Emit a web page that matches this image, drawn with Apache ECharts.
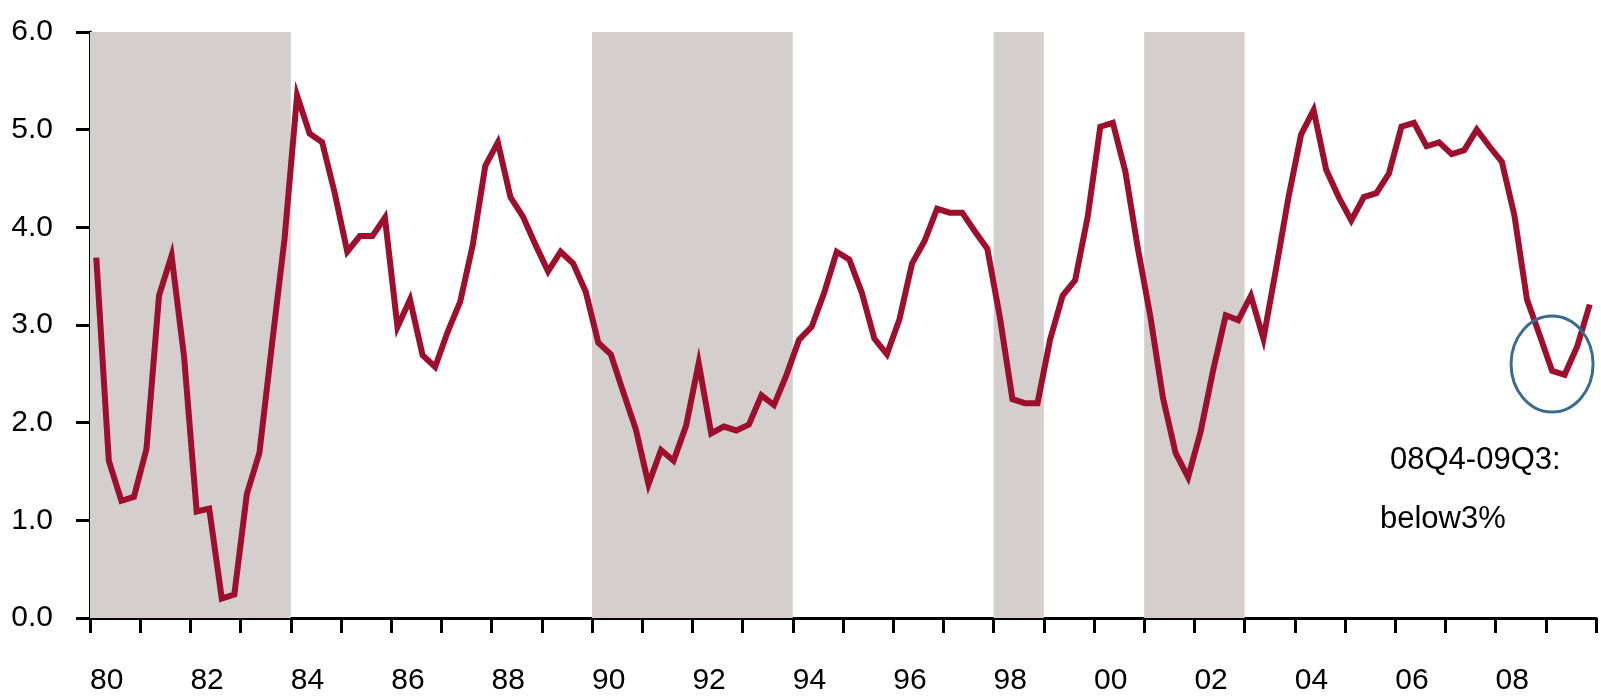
<!DOCTYPE html>
<html>
<head>
<meta charset="utf-8">
<script src="https://cdn.jsdelivr.net/npm/echarts@6/dist/echarts.min.js"></script>
<style>
  html, body { margin: 0; padding: 0; background: #fff; }
  #chart { width: 1601px; height: 699px; }
</style>
</head>
<body>
<div id="chart"></div>
<script>
// quarterly values, 1980Q1 .. 2009Q4
const values = [
  3.69, 1.61, 1.20, 1.24, 1.73, 3.30, 3.71, 2.67, 1.09, 1.12, 0.20, 0.24,
  1.27, 1.69, 2.80, 3.88, 5.35, 4.96, 4.87, 4.35, 3.75, 3.91, 3.91, 4.10,
  2.98, 3.26, 2.69, 2.57, 2.93, 3.24, 3.82, 4.63, 4.87, 4.31, 4.11, 3.82,
  3.55, 3.75, 3.63, 3.34, 2.82, 2.70, 2.31, 1.93, 1.37, 1.72, 1.61, 1.97,
  2.61, 1.89, 1.96, 1.92, 1.98, 2.28, 2.18, 2.49, 2.85, 2.98, 3.33, 3.75,
  3.67, 3.33, 2.86, 2.70, 3.06, 3.63, 3.86, 4.19, 4.15, 4.15, 3.96, 3.78,
  3.08, 2.24, 2.20, 2.20, 2.85, 3.30, 3.46, 4.11, 5.03, 5.07, 4.57, 3.78,
  3.08, 2.25, 1.69, 1.44, 1.91, 2.54, 3.10, 3.05, 3.30, 2.86, 3.57, 4.31,
  4.95, 5.20, 4.59, 4.31, 4.07, 4.31, 4.35, 4.55, 5.03, 5.07, 4.83, 4.87,
  4.75, 4.79, 5.00, 4.83, 4.67, 4.12, 3.26, 2.90, 2.53, 2.49, 2.78, 3.21
];

// shaded periods, in years
const shaded = [[1980, 1984], [1990, 1994], [1998, 1999], [2001, 2003]];

const yearLabels = ['80', '82', '84', '86', '88', '90', '92', '94', '96', '98', '00', '02', '04', '06', '08'];
const yTicks = ['0.0', '1.0', '2.0', '3.0', '4.0', '5.0', '6.0'];

const noteLines = ['08Q4-09Q3:', 'below3%'];
const notePoint = ['2009Q1', 2.6];

const quarters = [];
for (let y = 1980; y < 2010; y++) {
  for (let q = 1; q <= 4; q++) quarters.push(y + 'Q' + q);
}

const font = 'Liberation Sans, Arial, sans-serif';
const chart = echarts.init(document.getElementById('chart'));

chart.setOption({
  animation: false,
  grid: { left: 90, right: 5, top: 32, bottom: 81 },
  xAxis: [
    {
      type: 'category',
      data: quarters,
      boundaryGap: true,
      show: false
    },
    {
      type: 'value',
      min: 1980,
      max: 2010,
      interval: 1,
      position: 'bottom',
      axisLine: { lineStyle: { color: '#000', width: 3 } },
      axisTick: { length: 15, lineStyle: { color: '#000', width: 3 } },
      splitLine: { show: false },
      axisLabel: {
        color: '#000',
        fontFamily: font,
        fontSize: 30,
        align: 'left',
        margin: 48,
        formatter: v => {
          const i = (v - 1980) / 2;
          return Number.isInteger(i) && yearLabels[i] ? yearLabels[i] : '';
        }
      }
    }
  ],
  yAxis: {
    type: 'value',
    min: 0,
    max: 6,
    interval: 1,
    axisLine: { show: true, lineStyle: { color: '#000', width: 3 } },
    axisTick: { show: true, length: 14, lineStyle: { color: '#000', width: 3 } },
    splitLine: { show: false },
    axisLabel: {
      color: '#000',
      fontFamily: font,
      fontSize: 30,
      margin: 37,
      formatter: v => yTicks[Math.round(v)]
    }
  },
  series: [
    {
      type: 'line',
      xAxisIndex: 1,
      data: [],
      silent: true,
      z: 1,
      markArea: {
        silent: true,
        itemStyle: { color: '#d4cfcc' },
        data: shaded.map(s => [{ xAxis: s[0] }, { xAxis: s[1] }])
      }
    },
    {
      type: 'line',
      xAxisIndex: 0,
      data: values,
      showSymbol: false,
      z: 3,
      lineStyle: { color: '#9e0f2e', width: 6, cap: 'butt', join: 'miter' }
    }
  ]
});

const c = chart.convertToPixel({ xAxisIndex: 0, yAxisIndex: 0 }, notePoint);
chart.setOption({
  graphic: [
    {
      type: 'ellipse',
      shape: { cx: c[0], cy: c[1], rx: 41, ry: 48 },
      style: { fill: 'none', stroke: '#3b6b92', lineWidth: 3 },
      z: 10
    },
    {
      type: 'text',
      x: 1390, y: 460,
      style: { text: noteLines[0], font: '31px ' + font, fill: '#000', textVerticalAlign: 'middle' },
      z: 10
    },
    {
      type: 'text',
      x: 1380, y: 519,
      style: { text: noteLines[1], font: '31px ' + font, fill: '#000', textVerticalAlign: 'middle' },
      z: 10
    }
  ]
});
</script>
</body>
</html>
